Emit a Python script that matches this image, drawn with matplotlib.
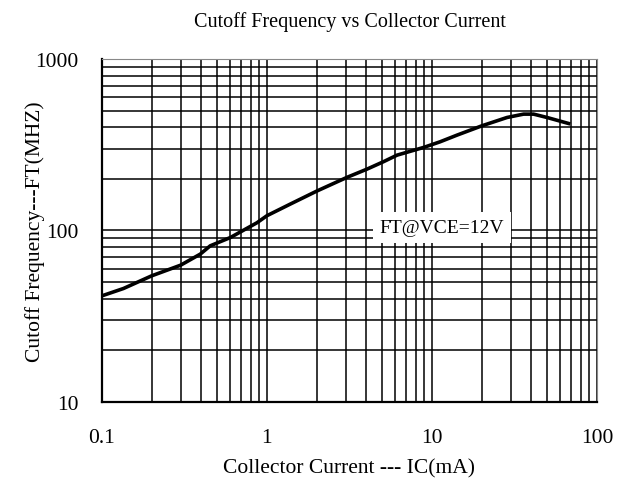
import numpy as np
import matplotlib
matplotlib.use("Agg")
import matplotlib.pyplot as plt
from matplotlib.ticker import LogLocator, FixedLocator, NullFormatter

plt.rcParams['font.family'] = ['Liberation Serif', 'DejaVu Serif']

# curve (IC in mA, FT in MHz)
ic_ma = [0.1, 0.135, 0.2, 0.3, 0.394, 0.453, 0.6, 0.87, 1.0, 1.385, 2.01, 3.05,
         4.04, 5.09, 6.14, 8.9, 11.2, 14.2, 20.1, 28.5, 35.9, 41.3, 49.8, 68.9]
ft_mhz = [41.6, 45.9, 54.4, 62.8, 72.8, 81.4, 91, 111, 122, 142.6, 170, 204,
          228, 252, 275, 305, 329, 360, 408, 456, 477, 477, 456, 418]

x_ticks = [0.1, 1, 10, 100]
x_labels = ["0.1", "1", "10", "100"]
y_ticks = [10, 100, 1000]
y_labels = ["10", "100", "1000"]

fig = plt.figure(figsize=(6.28, 4.85), dpi=100)
ax = fig.add_axes([0.1624, 0.1691, 0.7882, 0.7072])

ax.set_xscale("log")
ax.set_yscale("log")
ax.set_xlim(0.1, 100)
ax.set_ylim(10, 1000)

ax.xaxis.set_major_locator(FixedLocator(x_ticks))
ax.yaxis.set_major_locator(FixedLocator(y_ticks))
ax.xaxis.set_minor_locator(LogLocator(base=10, subs=np.arange(2, 10)))
ax.yaxis.set_minor_locator(LogLocator(base=10, subs=np.arange(2, 10)))
ax.xaxis.set_minor_formatter(NullFormatter())
ax.yaxis.set_minor_formatter(NullFormatter())
ax.set_xticklabels(x_labels)
ax.set_yticklabels(y_labels)

ax.grid(True, which="both", color="black", linewidth=1.1)
ax.tick_params(which="both", length=0, labelsize=15.5)
ax.tick_params(axis="x", pad=19)
ax.tick_params(axis="y", pad=17)
for lbl in ax.get_yticklabels():
    lbl.set_va("center_baseline")

for s in ["left", "bottom"]:
    ax.spines[s].set_linewidth(1.6)
for s in ["top", "right"]:
    ax.spines[s].set_color("#888888")
    ax.spines[s].set_linewidth(0.8)

ax.plot(ic_ma, ft_mhz, color="black", linewidth=2.6, solid_capstyle="butt")

ax.text(11.5, 104, "FT@VCE=12V", fontsize=14, ha="center", va="center",
        bbox=dict(facecolor="white", edgecolor="none", pad=5))

ax.set_title("Cutoff Frequency vs Collector Current", fontsize=14.5, pad=24)
ax.set_xlabel("Collector Current --- IC(mA)", fontsize=15.5, labelpad=8)
ax.set_ylabel("Cutoff Frequency---FT(MHZ)", fontsize=15.5, labelpad=-7)

fig.savefig("out.png", dpi=100)
